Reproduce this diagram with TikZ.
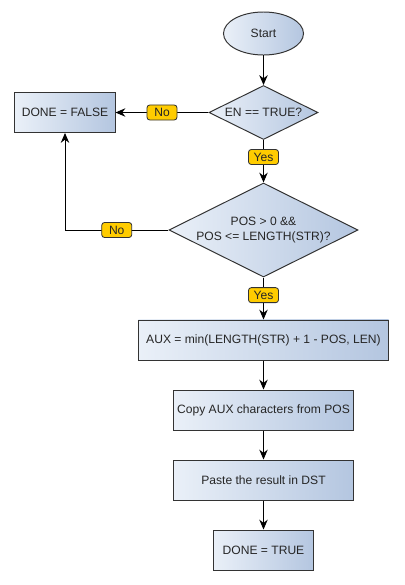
\documentclass[tikz,border=0pt]{standalone}
\usepackage{fontspec}
\setmainfont{Liberation Sans}
\usetikzlibrary{arrows.meta,positioning,shapes.geometric}
\definecolor{boxlight}{HTML}{EAF0F8}
\definecolor{boxdark}{HTML}{B4C6E0}
\definecolor{edgegray}{HTML}{333333}
\definecolor{tagyellow}{HTML}{FFCC00}
\tikzset{
	flow/.style={draw=edgegray, line width=0.7pt, left color=boxlight, right color=boxdark,
		font=\fontsize{8.6}{10.6}\selectfont, text=black!85, align=center},
	startstop/.style={flow, ellipse, minimum width=2cm, minimum height=1.075cm, inner sep=0pt},
	process/.style={flow, rectangle, minimum height=1cm, inner sep=0pt},
	decision/.style={flow, diamond, shape aspect=2, inner sep=0pt},
	tag/.style={draw=edgegray, fill=tagyellow, rounded corners=2pt, line width=0.6pt,
		minimum width=0.75cm, minimum height=0.375cm, inner sep=0pt,
		font=\fontsize{8.6}{10}\selectfont, text=black!85},
	link/.style={line width=0.7pt, -{Stealth[length=7pt,width=6pt]}},
}

\begin{document}
\begin{tikzpicture}[x=0.025cm, y=-0.025cm]
	\useasboundingbox (0,0) rectangle (404,585);

	% Place nodes
	\node [startstop] (start) at (263.5,33.5) {Start};
	\node [decision, minimum width=2.725cm, minimum height=1.35cm] (enabled) at (263.5,112.5) {EN == TRUE?};
	\node [process, minimum width=2.5cm] (notdone) at (65,112.5) {DONE = FALSE};
	\node [decision, minimum width=4.725cm, minimum height=2.35cm] (range) at (263.5,230) {POS > 0 \&\&\\POS <= LENGTH(STR)?};
	\node [process, minimum width=6.25cm] (aux) at (263.5,340) {AUX = min(LENGTH(STR) + 1 - POS, LEN)};
	\node [process, minimum width=4.5cm] (copy) at (263.5,410) {Copy AUX characters from POS};
	\node [process, minimum width=4.5cm] (paste) at (263.5,480) {Paste the result in DST};
	\node [process, minimum width=2.5cm] (done) at (263.5,550) {DONE = TRUE};

	% Draw edges
	\draw [link] (start) -- (enabled);
	\draw [link] (enabled.west) -- node [tag] {No} (notdone.east);
	\draw [link] (enabled) -- node [tag, pos=0.4] {Yes} (range);
	\draw [link] (range.west) -| node [tag, pos=0.25] {No} (notdone.south);
	\draw [link] (range) -- node [tag, pos=0.42] {Yes} (aux);
	\draw [link] (aux) -- (copy);
	\draw [link] (copy) -- (paste);
	\draw [link] (paste) -- (done);
\end{tikzpicture}
\end{document}
